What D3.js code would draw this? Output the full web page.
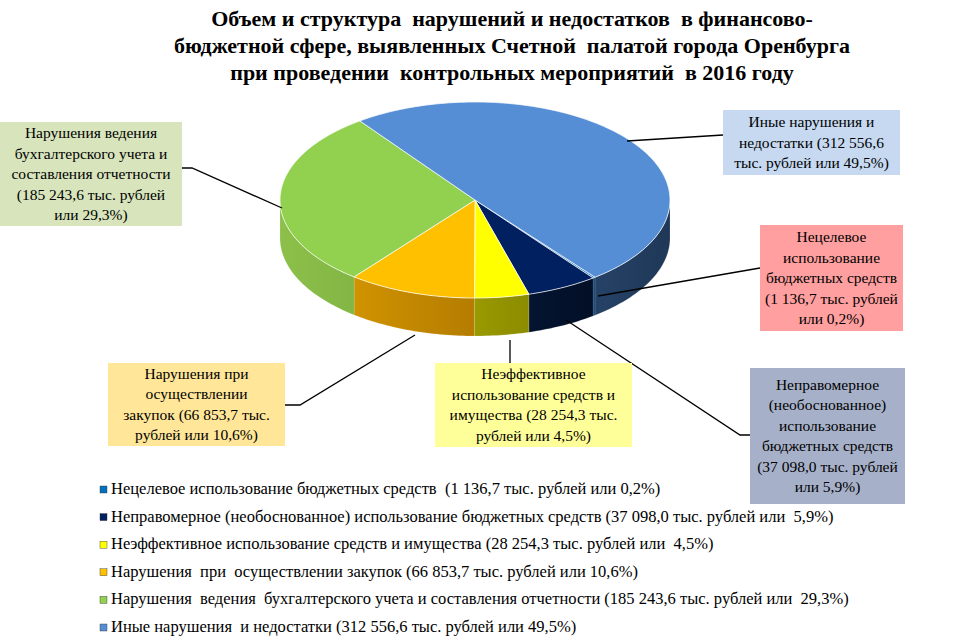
<!DOCTYPE html>
<html><head><meta charset="utf-8">
<script src="https://cdn.jsdelivr.net/npm/d3@7"></script>
<style>body{margin:0;background:#fff}</style>
</head><body><div class="container"></div>
<script>
const categories = ['Нецелевое использование бюджетных средств', 'Неправомерное (необоснованное) использование бюджетных средств', 'Неэффективное использование средств и имущества', 'Нарушения при осуществлении закупок', 'Нарушения ведения бухгалтерского учета и составления отчетности', 'Иные нарушения и недостатки'];
const amounts = ['1 136,7', '37 098,0', '28 254,3', '66 853,7', '185 243,6', '312 556,6'];
const shares = [0.2, 5.9, 4.5, 10.6, 29.3, 49.5];
const topColors = ['#0070c0', '#002060', '#ffff00', '#ffc000', '#92d050', '#558ed5'];
const sideLight = ['#0060a8', '#0a2a5e', '#c8c800', '#e0a000', '#8cc04a', '#3f6a9e'];
const sideDark = ['#003060', '#000818', '#6a6a00', '#8a5800', '#5c8a2c', '#1f3858'];

const legendLabels = [
  'Нецелевое использование бюджетных средств  (1 136,7 тыс. рублей или 0,2%)',
  'Неправомерное (необоснованное) использование бюджетных средств (37 098,0 тыс. рублей или  5,9%)',
  'Неэффективное использование средств и имущества (28 254,3 тыс. рублей или  4,5%)',
  'Нарушения  при  осуществлении закупок (66 853,7 тыс. рублей или 10,6%)',
  'Нарушения  ведения  бухгалтерского учета и составления отчетности (185 243,6 тыс. рублей или  29,3%)',
  'Иные нарушения  и недостатки (312 556,6 тыс. рублей или 49,5%)'
];
const callouts = [
  {i: 0, box: [760, 225, 143, 106], fill: '#ff9f9f', lines: ['Нецелевое', 'использование', 'бюджетных средств', '(1 136,7 тыс. рублей', 'или 0,2%)'], path: [[598, 296], [760, 268]]},
  {i: 1, box: [750, 368, 155, 136], fill: '#a6b0c8', lines: ['Неправомерное', '(необоснованное)', 'использование', 'бюджетных средств', '(37 098,0 тыс. рублей', 'или 5,9%)'], path: [[566, 320], [740, 435], [750, 435]]},
  {i: 2, box: [435, 363, 197, 84], fill: '#ffff99', lines: ['Неэффективное', 'использование средств и', 'имущества (28 254,3 тыс.', 'рублей или 4,5%)'], path: [[510, 340], [510, 363]]},
  {i: 3, box: [108, 363, 177, 83], fill: '#ffe699', lines: ['Нарушения при', 'осуществлении', 'закупок (66 853,7 тыс.', 'рублей или 10,6%)'], path: [[415, 335], [300, 405], [285, 405]]},
  {i: 4, box: [0, 122, 182, 104], fill: '#d7e4bc', lines: ['Нарушения ведения', 'бухгалтерского учета и', 'составления отчетности', '(185 243,6 тыс. рублей', 'или 29,3%)'], path: [[282, 208], [192, 168], [182, 168]]},
  {i: 5, box: [723, 110, 177, 65], fill: '#c6d9f1', lines: ['Иные нарушения и', 'недостатки (312 556,6', 'тыс. рублей или 49,5%)'], path: [[627, 141], [723, 135]]}
];

const width = 974, height = 641;
const cx = 475, cy = 200, rx = 195, ry = 98, depth = 38;
const font = '"Liberation Serif", "Times New Roman", serif';

const svg = d3.select('.container').append('svg').attr('width', width).attr('height', height);
const defs = svg.append('defs');

// title
const title = ['Объем и структура  нарушений и недостатков  в финансово-', 'бюджетной сфере, выявленных Счетной  палатой города Оренбурга', 'при проведении  контрольных мероприятий  в 2016 году'];
svg.append('text').attr('x', 512).attr('y', 26).attr('text-anchor', 'middle')
  .attr('font-family', font).attr('font-weight', 'bold').attr('font-size', 22).style('white-space', 'pre')
  .selectAll('tspan').data(title).join('tspan').attr('x', 512).attr('dy', (d, i) => i ? 27 : 0).text(d => d);

const pie = d3.pie().sort(null).value(d => d)
  .startAngle(142 / 180 * Math.PI).endAngle(142 / 180 * Math.PI + 2 * Math.PI);
const arcs = pie(shares);

const pt = (a, dy = 0) => [cx + rx * Math.sin(a), cy - ry * Math.cos(a) + dy];

function arcPoints(a0, a1, dy) {
  const n = Math.max(2, Math.ceil((a1 - a0) / 0.02));
  return d3.range(n + 1).map(k => pt(a0 + (a1 - a0) * k / n, dy));
}

// sides (front half only)
const sideG = svg.append('g');
arcs.forEach((d, i) => {
  const g = defs.append('linearGradient').attr('id', 'sg' + i).attr('gradientUnits', 'userSpaceOnUse')
    .attr('x1', cx - rx).attr('x2', cx + rx).attr('y1', 0).attr('y2', 0);
  g.append('stop').attr('offset', 0).attr('stop-color', sideLight[i]);
  g.append('stop').attr('offset', 1).attr('stop-color', sideDark[i]);
  for (const shift of [0, 2 * Math.PI, -2 * Math.PI]) {
    const a0 = Math.max(d.startAngle + shift, Math.PI / 2);
    const a1 = Math.min(d.endAngle + shift, 3 * Math.PI / 2);
    if (a1 <= a0) continue;
    const pts = arcPoints(a0, a1, 0).concat(arcPoints(a0, a1, depth).reverse());
    sideG.append('path').attr('d', d3.line()(pts) + 'Z')
      .attr('fill', `url(#sg${i})`).attr('stroke', 'rgba(255,255,255,0.25)').attr('stroke-width', 0.5);
  }
});

// tops
svg.append('g').selectAll('path').data(arcs).join('path')
  .attr('d', d => d3.line()([[cx, cy], ...arcPoints(d.startAngle, d.endAngle, 0)]) + 'Z')
  .attr('fill', (d, i) => topColors[i]).attr('stroke', '#fff').attr('stroke-width', 0.7);

// callouts
callouts.forEach(c => {
  svg.append('path').attr('d', d3.line()(c.path)).attr('fill', 'none').attr('stroke', '#000').attr('stroke-width', 1.3);
  const [x, y, w, h] = c.box;
  svg.append('rect').attr('x', x).attr('y', y).attr('width', w).attr('height', h).attr('fill', c.fill);
  const lh = 20.5;
  const y0 = y + h / 2 - (c.lines.length - 1) * lh / 2 + 5;
  svg.append('text').attr('font-family', font).attr('font-size', 15.5).attr('text-anchor', 'middle')
    .selectAll('tspan').data(c.lines).join('tspan')
    .attr('x', x + w / 2).attr('y', (d, k) => y0 + k * lh).text(d => d);
});

// legend
const ly = d3.scalePoint().domain(d3.range(legendLabels.length)).range([494, 632]);
const lg = svg.append('g').selectAll('g').data(legendLabels).join('g')
  .attr('transform', (d, i) => `translate(100, ${ly(i)})`);
lg.append('rect').attr('x', 0).attr('y', -8).attr('width', 7).attr('height', 7)
  .attr('fill', (d, i) => topColors[i]).attr('stroke', '#333').attr('stroke-width', 0.4);
lg.append('text').attr('x', 11).attr('y', 0).attr('font-family', font).attr('font-size', 16.5)
  .style('white-space', 'pre').text(d => d);
</script></body></html>
